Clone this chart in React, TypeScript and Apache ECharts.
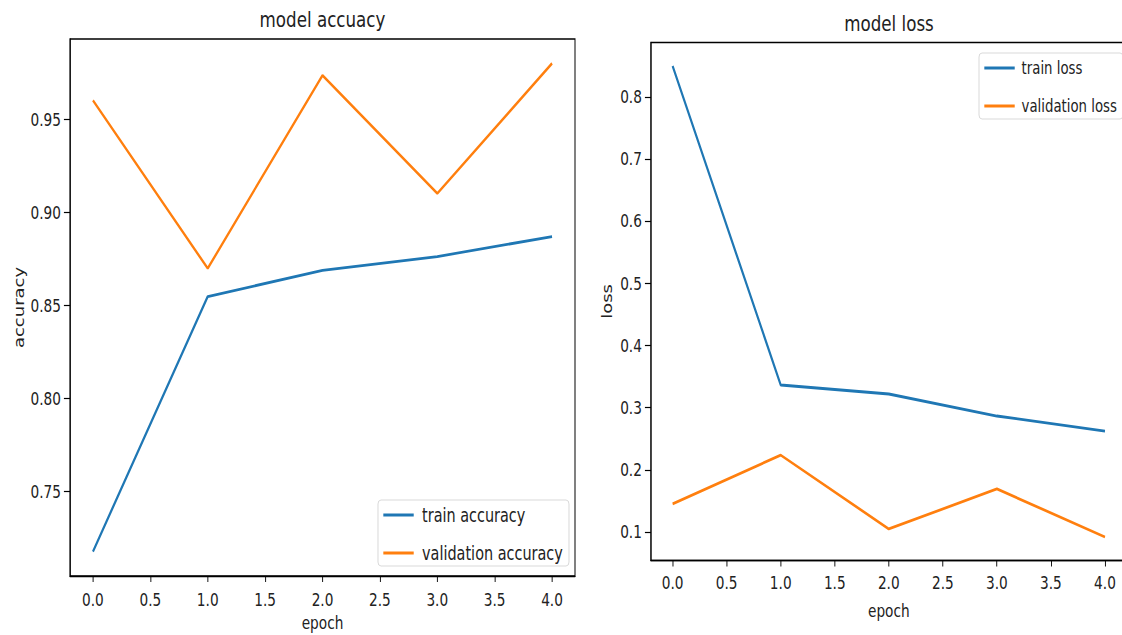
import React, { useEffect, useRef } from "react";
import * as echarts from "echarts";

const epochs = [0, 1, 2, 3, 4];
const trainAcc = [0.7177, 0.8548, 0.8688, 0.8763, 0.887];
const valAcc = [0.9602, 0.8699, 0.9737, 0.9102, 0.9801];
const trainLoss = [0.8494, 0.3365, 0.322, 0.2866, 0.2624];
const valLoss = [0.1452, 0.2237, 0.105, 0.1693, 0.0921];
const xTicks = [0, 0.5, 1, 1.5, 2, 2.5, 3, 3.5, 4];
const accTicks = [0.75, 0.8, 0.85, 0.9, 0.95];
const lossTicks = [0.1, 0.2, 0.3, 0.4, 0.5, 0.6, 0.7, 0.8];

const S = 0.76; // horizontal squish of the reference image
const INNER_W = 1540;
const H = 635;
const FONT = "DejaVu Sans";
const TXT = "#222";
const BLUE = "#1f77b4";
const ORANGE = "#ff7f0e";

const u = (x: number) => x / S;

function padRange(arrs: number[][]): [number, number] {
  const all = ([] as number[]).concat(...arrs);
  const mn = Math.min(...all);
  const mx = Math.max(...all);
  const p = (mx - mn) * 0.05;
  return [mn - p, mx + p];
}

const pairs = (ys: number[]) => epochs.map((e, i) => [e, ys[i]]);

export default function App() {
  const ref = useRef<HTMLDivElement>(null);
  useEffect(() => {
    if (!ref.current) return;
    const chart = echarts.init(ref.current, undefined, { renderer: "svg" });
    const [accMin, accMax] = padRange([trainAcc, valAcc]);
    const [lossMin, lossMax] = padRange([trainLoss, valLoss]);
    const xr = padRange([epochs]);

    const xAxisBase = (gridIndex: number, margin: number, nameGap: number) => ({
      type: "value" as const,
      gridIndex,
      min: xr[0],
      max: xr[1],
      name: "epoch",
      nameLocation: "middle" as const,
      nameGap,
      nameTextStyle: { fontFamily: FONT, fontSize: 18, color: TXT },
      splitLine: { show: false },
      axisLine: { show: true, onZero: false, lineStyle: { color: "#000", width: 1.3 } },
      axisTick: { show: true, inside: false, length: 6, customValues: xTicks, lineStyle: { color: "#000", width: 1.2 } },
      axisLabel: {
        show: true,
        margin,
        customValues: xTicks,
        formatter: (v: number) => v.toFixed(1),
        fontFamily: FONT,
        fontSize: 18,
        color: TXT,
      },
    });

    const yAxisBase = (gridIndex: number, min: number, max: number, ticks: number[], dec: number, name: string, gap: number) => ({
      type: "value" as const,
      gridIndex,
      min,
      max,
      name,
      nameLocation: "middle" as const,
      nameGap: gap,
      nameTextStyle: { fontFamily: FONT, fontSize: 18, color: TXT },
      splitLine: { show: false },
      axisLine: { show: true, onZero: false, lineStyle: { color: "#000", width: 1.3 } },
      axisTick: { show: true, inside: false, length: 8, customValues: ticks, lineStyle: { color: "#000", width: 1.2 } },
      axisLabel: {
        show: true,
        margin: 12,
        customValues: ticks,
        formatter: (v: number) => v.toFixed(dec),
        fontFamily: FONT,
        fontSize: 18,
        color: TXT,
      },
    });

    const legendBase = (fontSize: number, textPad: number) => ({
      orient: "vertical" as const,
      icon: "rect",
      itemWidth: 40,
      itemHeight: 3,
      itemGap: 16,
      padding: [4, 8, 2, 7],
      backgroundColor: "rgba(255,255,255,0.8)",
      borderColor: "#d4d4d4",
      borderWidth: 1,
      borderRadius: 4,
      textStyle: { fontFamily: FONT, fontSize, color: TXT, lineHeight: 22, padding: [0, 0, 0, textPad] },
    });

    chart.setOption({
      animation: false,
      backgroundColor: "#fff",
      graphic: [
        {
          type: "text",
          x: u(322.5),
          y: 20,
          style: { text: "model accuacy", font: `22px "${FONT}"`, fill: TXT, align: "center", verticalAlign: "middle" },
        },
        {
          type: "text",
          x: u(889),
          y: 24,
          style: { text: "model loss", font: `22px "${FONT}"`, fill: TXT, align: "center", verticalAlign: "middle" },
        },
      ],
      grid: [
        { left: u(70), top: 39, width: u(575) - u(70), height: 537, show: true, borderColor: "#000", borderWidth: 1.3, outerBoundsMode: "none" },
        { left: u(651), top: 42.5, width: u(1126.6) - u(651), height: 518, show: true, borderColor: "#000", borderWidth: 1.3, outerBoundsMode: "none" },
      ],
      xAxis: [xAxisBase(0, 15, 36), xAxisBase(1, 13, 41)],
      yAxis: [
        yAxisBase(0, accMin, accMax, accTicks, 2, "accuracy", 58),
        yAxisBase(1, lossMin, lossMax, lossTicks, 1, "loss", 48),
      ],
      legend: [
        { ...legendBase(19, 6), left: u(378), top: 500, data: ["train accuracy", "validation accuracy"] },
        { ...legendBase(17.5, 4), left: u(979), top: 53, data: ["train loss", "validation loss"] },
      ],
      series: [
        { name: "train accuracy", type: "line", xAxisIndex: 0, yAxisIndex: 0, data: pairs(trainAcc), symbol: "none", color: BLUE, lineStyle: { width: 2.8, color: BLUE } },
        { name: "validation accuracy", type: "line", xAxisIndex: 0, yAxisIndex: 0, data: pairs(valAcc), symbol: "none", color: ORANGE, lineStyle: { width: 2.8, color: ORANGE } },
        { name: "train loss", type: "line", xAxisIndex: 1, yAxisIndex: 1, data: pairs(trainLoss), symbol: "none", color: BLUE, lineStyle: { width: 2.8, color: BLUE } },
        { name: "validation loss", type: "line", xAxisIndex: 1, yAxisIndex: 1, data: pairs(valLoss), symbol: "none", color: ORANGE, lineStyle: { width: 2.8, color: ORANGE } },
      ],
    });
    return () => chart.dispose();
  }, []);

  return (
    <div style={{ position: "fixed", left: 0, top: 0, width: 1122, height: H, overflow: "hidden", background: "#fff" }}>
      <div
        ref={ref}
        style={{ width: INNER_W, height: H, transform: `scaleX(${S})`, transformOrigin: "0 0" }}
      />
    </div>
  );
}
